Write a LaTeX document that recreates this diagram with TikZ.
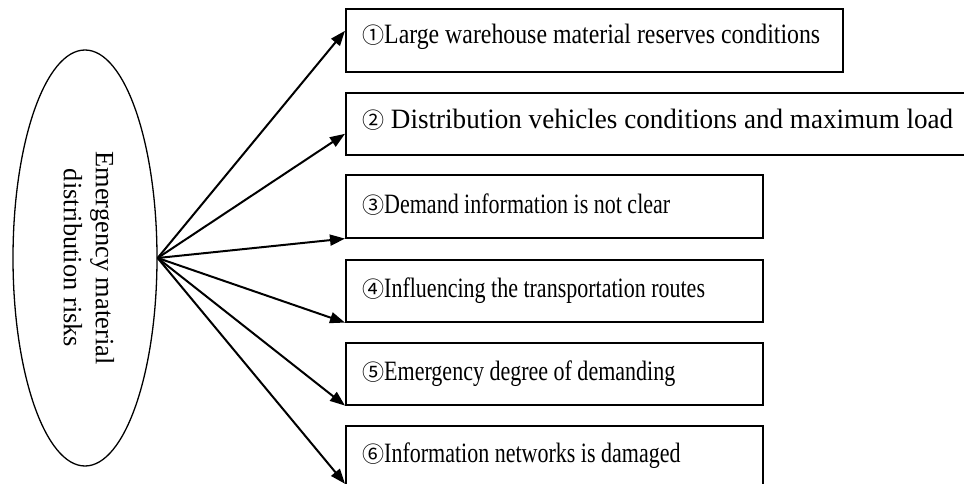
\documentclass[tikz,border=0pt]{standalone}
\usepackage{fontspec}
\usepackage{graphicx}
\setmainfont{Liberation Serif}
\newfontfamily\circfont{Noto Sans CJK SC}
\usetikzlibrary{arrows.meta,shapes.geometric}
\tikzset{
  riskbox/.style={draw,line width=1.6pt,rectangle,inner sep=0pt,anchor=north west},
  risktext/.style={anchor=base west,inner sep=0pt,font=\fontsize{28}{34}\selectfont},
  riskarrow/.style={line width=2pt,-{Triangle[length=15pt,width=11pt]}},
}
\newcommand{\cnum}[1]{{\circfont\fontsize{22}{30}\selectfont #1}}
\newcommand{\rtext}[1]{\scalebox{0.786}[1]{#1}}
\begin{document}
\begin{tikzpicture}[x=1pt,y=1pt]
\useasboundingbox (0,0) rectangle (964,483);
\clip (0,0) rectangle (964,483);
% ellipse
\node[draw,ellipse,line width=1.3pt,minimum width=144pt,minimum height=416pt,inner sep=0pt] (e) at (85,225) {};
\node[rotate=-90,align=center,font=\fontsize{26.4}{32}\selectfont,inner sep=0pt] (et) at (89,225) {Emergency material\\distribution risks};
% boxes
\node[riskbox,minimum width=497pt,minimum height=63pt] (b1) at (345,475) {};
\node[riskbox,minimum width=640pt,minimum height=62pt] (b2) at (345,391) {};
\node[riskbox,minimum width=417pt,minimum height=63pt] (b3) at (345,309) {};
\node[riskbox,minimum width=417pt,minimum height=62pt] (b4) at (345,224) {};
\node[riskbox,minimum width=417pt,minimum height=62pt] (b5) at (345,141) {};
\node[riskbox,minimum width=417pt,minimum height=70pt] (b6) at (345,58) {};
% texts
\node[risktext] (t1) at (362,439) {\cnum{①}\resizebox{436pt}{\height}{Large warehouse material reserves conditions}};
\node[risktext] (t2) at (362,355) {\cnum{②}\resizebox{569pt}{\height}{ Distribution vehicles conditions and maximum load}};
\node[risktext] (t3) at (362,270) {\cnum{③}\rtext{Demand information is not clear}};
\node[risktext] (t4) at (362,186) {\cnum{④}\rtext{Influencing the transportation routes}};
\node[risktext] (t5) at (362,103) {\cnum{⑤}\rtext{Emergency degree of demanding}};
\node[risktext] (t6) at (362,21) {\cnum{⑥}\rtext{Information networks is damaged}};
% arrow targets
\coordinate (a1) at ([yshift=9.5pt]b1.west);
\coordinate (a2) at ([yshift=-10pt]b2.west);
\coordinate (a6) at ([yshift=-23pt]b6.west);
% arrows
\draw[riskarrow] (e.east) -- (a1);
\draw[riskarrow] (e.east) -- (a2);
\draw[riskarrow] (e.east) -- (b3.south west);
\draw[riskarrow] (e.east) -- (b4.south west);
\draw[riskarrow] (e.east) -- (b5.south west);
\draw[riskarrow] (e.east) -- (a6);
\end{tikzpicture}
\end{document}
